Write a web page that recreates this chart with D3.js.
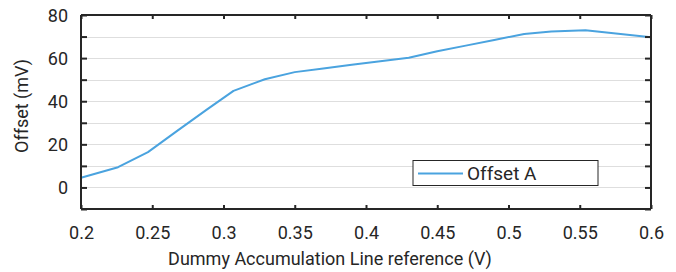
<!DOCTYPE html>
<html>
<head>
<meta charset="utf-8">
<script src="https://cdn.jsdelivr.net/npm/d3@7"></script>
<style>
  html, body { margin: 0; padding: 0; background: #fff; }
  svg { display: block; }
  text { font-family: Roboto, "DejaVu Sans", sans-serif; fill: #262626; }
</style>
</head>
<body>
<svg id="chart" width="676" height="272"></svg>
<script>
// ---- data ----
const xValues = [0.2, 0.226, 0.247, 0.267, 0.288, 0.307, 0.329, 0.35, 0.37, 0.39, 0.41, 0.43, 0.45, 0.47, 0.49, 0.511, 0.53, 0.554, 0.577, 0.6];
const offsetA = [4.5, 9.4, 16.4, 26, 36, 44.8, 50.2, 53.5, 55.2, 56.9, 58.5, 60.2, 63.2, 65.8, 68.4, 71.2, 72.3, 72.9, 71.3, 69.7];
const seriesName = "Offset A";
const xTicks = [0.2, 0.25, 0.3, 0.35, 0.4, 0.45, 0.5, 0.55, 0.6];
const yLabelTicks = [0, 20, 40, 60, 80];
const yMinorTicks = [-10, 0, 10, 20, 30, 40, 50, 60, 70, 80];
const xTitle = "Dummy Accumulation Line reference (V)";
const yTitle = "Offset (mV)";

// ---- layout ----
const pL = 81, pR = 651, pT = 15, pB = 209;
const svg = d3.select("#chart");
const x = d3.scaleLinear().domain([0.2, 0.6]).range([pL, pR]);
const y = d3.scaleLinear().domain([-10, 80]).range([pB, pT]);
const frame = "#262626";
const font = "Roboto, 'DejaVu Sans', sans-serif";

// gridlines
svg.append("g").selectAll("line")
  .data(yMinorTicks.filter(d => d > -10 && d < 80))
  .join("line")
  .attr("x1", pL).attr("x2", pR)
  .attr("y1", d => Math.round(y(d)) + 0.5).attr("y2", d => Math.round(y(d)) + 0.5)
  .attr("stroke", "#dedede")
  .attr("stroke-width", 1);

// line
const line = d3.line().x((d, i) => x(xValues[i])).y(d => y(d));
svg.append("path")
  .datum(offsetA)
  .attr("d", line)
  .attr("fill", "none")
  .attr("stroke", "#4aa3df")
  .attr("stroke-width", 2)
  .attr("stroke-linejoin", "round");

// axes with inward ticks
const xAxisB = d3.axisBottom(x).tickValues(xTicks).tickSize(-4).tickPadding(17).tickFormat(d => String(d));
const xAxisT = d3.axisTop(x).tickValues(xTicks).tickSize(-4).tickFormat("");
const yAxisL = d3.axisLeft(y).tickValues(yMinorTicks).tickSize(-6).tickPadding(13)
  .tickFormat(d => yLabelTicks.includes(d) ? String(d) : "");
const yAxisR = d3.axisRight(y).tickValues(yMinorTicks).tickSize(-6).tickFormat("");

function style(g) {
  g.select(".domain").attr("stroke", frame).attr("stroke-width", 2);
  g.selectAll(".tick line").attr("stroke", frame).attr("stroke-width", 2);
  g.selectAll(".tick text").attr("fill", frame).style("font-size", "18px").style("font-family", font);
}
svg.append("g").attr("transform", `translate(0,${pB})`).call(xAxisB).call(style)
  .call(g => g.select(".domain").attr("d", `M${pL},0H${pR}`))
  .call(g => g.selectAll(".tick text").attr("dy", "0.71em"));
svg.append("g").attr("transform", `translate(0,${pT})`).call(xAxisT).call(style)
  .call(g => g.select(".domain").attr("d", `M${pL},0H${pR}`));
svg.append("g").attr("transform", `translate(${pL},0)`).call(yAxisL).call(style)
  .call(g => g.select(".domain").attr("d", `M0,${pT}V${pB}`))
  .call(g => g.selectAll(".tick text").attr("dy", "0.36em"));
svg.append("g").attr("transform", `translate(${pR},0)`).call(yAxisR).call(style)
  .call(g => g.select(".domain").attr("d", `M0,${pT}V${pB}`));

// titles
svg.append("text")
  .attr("x", 330).attr("y", 265)
  .attr("text-anchor", "middle")
  .style("font-size", "18px")
  .text(xTitle);
svg.append("text")
  .attr("transform", "translate(28,106) rotate(-90)")
  .attr("text-anchor", "middle")
  .style("font-size", "18px")
  .text(yTitle);

// legend
const lg = svg.append("g");
lg.append("rect")
  .attr("x", 413).attr("y", 160.5).attr("width", 185).attr("height", 25)
  .attr("fill", "#fff").attr("stroke", frame).attr("stroke-width", 1);
lg.append("line")
  .attr("x1", 418).attr("x2", 463).attr("y1", 173.5).attr("y2", 173.5)
  .attr("stroke", "#4aa3df").attr("stroke-width", 2);
lg.append("text")
  .attr("x", 467).attr("y", 180)
  .style("font-size", "19px")
  .text(seriesName);
</script>
</body>
</html>
